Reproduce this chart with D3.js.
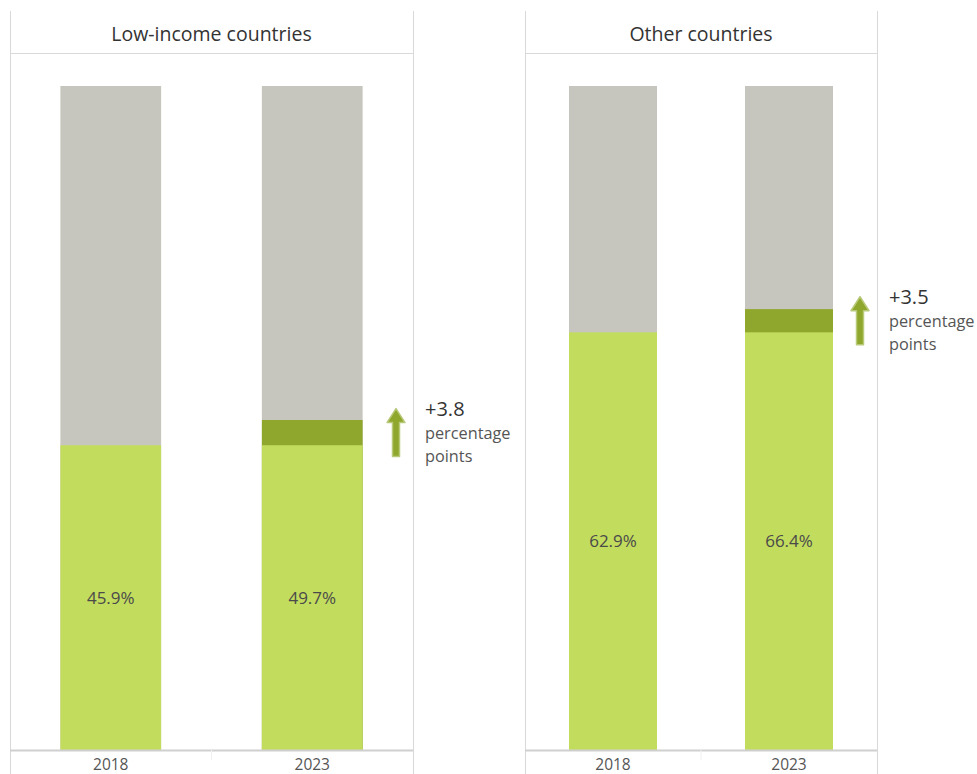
<!DOCTYPE html>
<html><head><meta charset="utf-8">
<script src="https://cdn.jsdelivr.net/npm/d3@7"></script>
<style>
body{margin:0;background:#fff;}
svg{display:block;font-family:"Open Sans","Noto Sans",sans-serif;}
</style></head>
<body>
<svg id="chart" width="977" height="774"></svg>
<script>
const panels = ["Low-income countries", "Other countries"];
const years = ["2018", "2023"];
const share2018 = [45.9, 62.9];
const share2023 = [49.7, 66.4];
const changeLabels = ["+3.8", "+3.5"];
const changeSub = ["percentage", "points"];

(function () {
const svg = d3.select("#chart");
const W = 977, H = 774;
const panelX = [[10, 413], [525, 877]];
const plotTop = 86, plotBottom = 750, headerY = 53, frameTop = 11;

const y = d3.scaleLinear().domain([0, 100]).range([plotBottom, plotTop]);

const colGray = "#c7c6be", colLime = "#c2dc5e", colDark = "#8fa72c";
const lineCol = "#d9d9d9";

panels.forEach((name, i) => {
  const [x0, x1] = panelX[i];
  const x = d3.scaleBand().domain(years).range([x0, x1]).paddingInner(0.5).paddingOuter(0.25);
  const g = svg.append("g");
  const base = share2018[i], now = share2023[i];

  // frame
  g.append("line").attr("x1", x0 + 0.5).attr("x2", x0 + 0.5).attr("y1", frameTop).attr("y2", H).attr("stroke", lineCol);
  g.append("line").attr("x1", x1 + 0.5).attr("x2", x1 + 0.5).attr("y1", frameTop).attr("y2", H).attr("stroke", lineCol);
  g.append("line").attr("x1", x0).attr("x2", x1).attr("y1", headerY + 0.5).attr("y2", headerY + 0.5).attr("stroke", lineCol);

  g.append("text").attr("x", (x0 + x1) / 2).attr("y", 41).attr("text-anchor", "middle")
    .attr("font-size", 19.5).attr("fill", "#333").text(name);

  // bars
  const vals = [base, now];
  years.forEach((yr, j) => {
    const bx = x(yr), bw = x.bandwidth();
    g.append("rect").attr("x", bx).attr("width", bw).attr("y", y(100)).attr("height", y(0) - y(100)).attr("fill", colGray);
    g.append("rect").attr("x", bx).attr("width", bw).attr("y", y(vals[j])).attr("height", y(0) - y(vals[j])).attr("fill", j === 1 ? colDark : colLime);
    if (j === 1) {
      g.append("rect").attr("x", bx).attr("width", bw).attr("y", y(base)).attr("height", y(0) - y(base)).attr("fill", colLime);
    }
    g.append("text").attr("x", bx + bw / 2).attr("y", (y(base) + y(0)) / 2 + 6)
      .attr("text-anchor", "middle").attr("font-size", 17).attr("fill", "#4a4a4a")
      .text(d3.format(".1f")(vals[j]) + "%");
    g.append("text").attr("x", bx + bw / 2).attr("y", 769.5).attr("text-anchor", "middle")
      .attr("font-size", 15.5).attr("fill", "#555").text(yr);
  });

  // axis lines
  g.append("line").attr("x1", x0).attr("x2", x1).attr("y1", plotBottom + 0.5).attr("y2", plotBottom + 0.5).attr("stroke", "#cfcfcf").attr("stroke-width", 2);
  g.append("line").attr("x1", (x0 + x1) / 2).attr("x2", (x0 + x1) / 2).attr("y1", plotBottom).attr("y2", plotBottom + 10).attr("stroke", "#f0f0f0");

  // arrow
  const mid = (y(base) + y(now)) / 2;
  const ax = x1 - 17;
  const aTop = mid - 24, aBot = mid + 24, headH = 14, headW = 9, shaft = 3.5;
  const p = d3.path();
  p.moveTo(ax, aTop);
  p.lineTo(ax + headW, aTop + headH);
  p.lineTo(ax + shaft, aTop + headH);
  p.lineTo(ax + shaft, aBot);
  p.lineTo(ax - shaft, aBot);
  p.lineTo(ax - shaft, aTop + headH);
  p.lineTo(ax - headW, aTop + headH);
  p.closePath();
  g.append("path").attr("d", p.toString()).attr("fill", colDark).attr("stroke", "#b8c97a").attr("stroke-width", 1.5).attr("stroke-linejoin", "round");

  // change label
  const tx = x1 + 12;
  g.append("text").attr("x", tx).attr("y", aTop + 7).attr("font-size", 20).attr("fill", "#333").text(changeLabels[i]);
  changeSub.forEach((s, k) => {
    g.append("text").attr("x", tx).attr("y", aTop + 30 + k * 23).attr("font-size", 16.3).attr("fill", "#555").text(s);
  });
});
})();
</script>
</body></html>
